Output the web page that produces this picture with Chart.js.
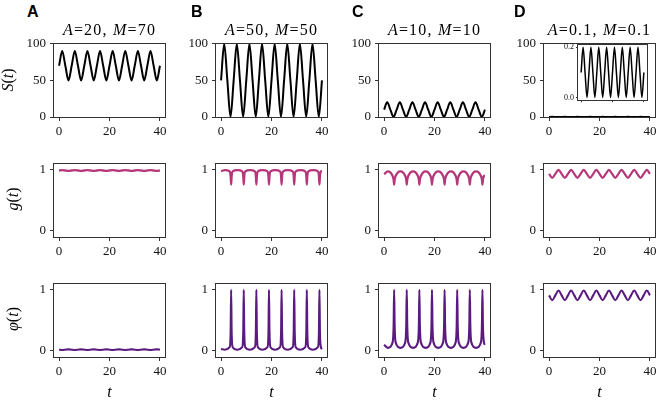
<!DOCTYPE html>
<html>
<head>
<meta charset="utf-8">
<script src="https://cdn.jsdelivr.net/npm/chart.js@4.4.1/dist/chart.umd.min.js"></script>
<style>
body{margin:0;background:#fff;width:658px;height:402px;overflow:hidden;position:relative;font-family:'Liberation Serif',serif}
canvas{position:absolute}
.lbl{position:absolute;white-space:nowrap;line-height:16px;color:#000}
.letter{font-family:'Liberation Sans',Arial,sans-serif;font-weight:bold;font-size:16px}
.ttl{font-size:16px;text-align:center;width:170px;letter-spacing:1.2px}
.ylab{font-size:16px;width:60px;height:16px;text-align:center;transform:rotate(-90deg)}
.xlab{font-size:16px;width:40px;text-align:center}
</style>
</head>
<body>
<script>
// time grids
const sT = [0,1.25,2.5,3.75,5,6.25,7.5,8.75,10,11.25,12.5,13.75,15,16.25,17.5,18.75,20,21.25,22.5,23.75,25,26.25,27.5,28.75,30,31.25,32.5,33.75,35,36.25,37.5,38.75,40];
const spikeT = [0,1.5,
  3.4,3.8,4,4.2,4.6,6.5,
  8.4,8.8,9,9.2,9.6,11.5,
  13.4,13.8,14,14.2,14.6,16.5,
  18.4,18.8,19,19.2,19.6,21.5,
  23.4,23.8,24,24.2,24.6,26.5,
  28.4,28.8,29,29.2,29.6,31.5,
  33.4,33.8,34,34.2,34.6,36.5,
  38.4,38.8,39,39.2,39.6,
  40];

// S(t)
const sA = [70,90,70,50,70,90,70,50,70,90,70,50,70,90,70,50,70,90,70,50,70,90,70,50,70,90,70,50,70,90,70,50,70];
const sB = [50,100,50,0,50,100,50,0,50,100,50,0,50,100,50,0,50,100,50,0,50,100,50,0,50,100,50,0,50,100,50,0,50];
const sC = [10,20,10,0,10,20,10,0,10,20,10,0,10,20,10,0,10,20,10,0,10,20,10,0,10,20,10,0,10,20,10,0,10];
const sD = [0.1,0.2,0.1,0,0.1,0.2,0.1,0,0.1,0.2,0.1,0,0.1,0.2,0.1,0,0.1,0.2,0.1,0,0.1,0.2,0.1,0,0.1,0.2,0.1,0,0.1,0.2,0.1,0,0.1];

// g(t)
const gA = [0.99,0.995,0.99,0.985,0.99,0.995,0.99,0.985,0.99,0.995,0.99,0.985,0.99,0.995,0.99,0.985,0.99,0.995,0.99,0.985,0.99,0.995,0.99,0.985,0.99,0.995,0.99,0.985,0.99,0.995,0.99,0.985,0.99];
const gB = [0.98,0.995,
  0.975,0.9,0.76,0.9,0.975,0.995,
  0.975,0.9,0.76,0.9,0.975,0.995,
  0.975,0.9,0.76,0.9,0.975,0.995,
  0.975,0.9,0.76,0.9,0.975,0.995,
  0.975,0.9,0.76,0.9,0.975,0.995,
  0.975,0.9,0.76,0.9,0.975,0.995,
  0.975,0.9,0.76,0.9,0.975,0.995,
  0.975,0.9,0.76,0.9,0.975,
  0.98];
const gC = [0.93,0.975,
  0.9,0.84,0.76,0.84,0.9,0.975,
  0.9,0.84,0.76,0.84,0.9,0.975,
  0.9,0.84,0.76,0.84,0.9,0.975,
  0.9,0.84,0.76,0.84,0.9,0.975,
  0.9,0.84,0.76,0.84,0.9,0.975,
  0.9,0.84,0.76,0.84,0.9,0.975,
  0.9,0.84,0.76,0.84,0.9,0.975,
  0.9,0.84,0.76,0.84,0.9,
  0.9];
const gD = [0.935,0.87,0.935,1,0.935,0.87,0.935,1,0.935,0.87,0.935,1,0.935,0.87,0.935,1,0.935,0.87,0.935,1,0.935,0.87,0.935,1,0.935,0.87,0.935,1,0.935,0.87,0.935,1,0.935];

// phi(t)
const phiA = [0.02,0.015,0.02,0.025,0.02,0.015,0.02,0.025,0.02,0.015,0.02,0.025,0.02,0.015,0.02,0.025,0.02,0.015,0.02,0.025,0.02,0.015,0.02,0.025,0.02,0.015,0.02,0.025,0.02,0.015,0.02,0.025,0.02];
const phiB = [0.03,0.02,
  0.06,0.3,1,0.3,0.06,0.02,
  0.06,0.3,1,0.3,0.06,0.02,
  0.06,0.3,1,0.3,0.06,0.02,
  0.06,0.3,1,0.3,0.06,0.02,
  0.06,0.3,1,0.3,0.06,0.02,
  0.06,0.3,1,0.3,0.06,0.02,
  0.06,0.3,1,0.3,0.06,0.02,
  0.06,0.3,1,0.3,0.06,
  0.03];
const phiC = [0.1,0.05,
  0.14,0.42,1,0.42,0.14,0.05,
  0.14,0.42,1,0.42,0.14,0.05,
  0.14,0.42,1,0.42,0.14,0.05,
  0.14,0.42,1,0.42,0.14,0.05,
  0.14,0.42,1,0.42,0.14,0.05,
  0.14,0.42,1,0.42,0.14,0.05,
  0.14,0.42,1,0.42,0.14,0.05,
  0.14,0.42,1,0.42,0.14,
  0.1];
const phiD = [0.91,0.83,0.91,0.99,0.91,0.83,0.91,0.99,0.91,0.83,0.91,0.99,0.91,0.83,0.91,0.99,0.91,0.83,0.91,0.99,0.91,0.83,0.91,0.99,0.91,0.83,0.91,0.99,0.91,0.83,0.91,0.99,0.91];

// ticks and labels
const xTicks = [0, 20, 40];
const sTicks = [0, 50, 100];
const unitTicks = [0, 1];
const insetTicks = [0, 0.2];
const panelLetters = ['A', 'B', 'C', 'D'];
const ampValues = ['20', '50', '10', '0.1'];
const meanValues = ['70', '50', '10', '0.1'];

const gColor = '#b5377a';
const phiColor = '#5b1a7f';

const colLeft = [54, 216, 379, 544];
const rowTop = [42, 162, 282];
const plotW = 111, plotH = 75;

const rows = [
  { t:[sT, sT, sT, sT], vals:[sA, sB, sC, sD], color:'#000', width:2, min:0, max:100, ticks:sTicks },
  { t:[sT, spikeT, spikeT, sT], vals:[gA, gB, gC, gD], color:gColor, width:2.3, min:-0.1, max:1.1, ticks:unitTicks },
  { t:[sT, spikeT, spikeT, sT], vals:[phiA, phiB, phiC, phiD], color:phiColor, width:2.1, min:-0.1, max:1.1, ticks:unitTicks }
];

const frame = {
  id:'frame',
  afterDatasetsDraw(chart){
    const a = chart.chartArea, ctx = chart.ctx;
    ctx.save();
    ctx.strokeStyle = '#333';
    ctx.lineWidth = 1;
    ctx.strokeRect(Math.round(a.left) - 0.5, Math.round(a.top) - 0.5, Math.round(a.right - a.left) + 1, Math.round(a.bottom - a.top) + 1);
    ctx.restore();
  }
};

function addCanvas(x, y, w, h){
  const c = document.createElement('canvas');
  c.width = w; c.height = h;
  c.style.left = x + 'px'; c.style.top = y + 'px';
  c.style.width = w + 'px'; c.style.height = h + 'px';
  document.body.appendChild(c);
  return c;
}

function addLabel(cls, html, x, y){
  const d = document.createElement('div');
  d.className = 'lbl ' + cls;
  d.innerHTML = html;
  d.style.left = x + 'px'; d.style.top = y + 'px';
  document.body.appendChild(d);
  return d;
}

function axis(min, max, ticks, opt){
  return {
    type:'linear', min, max,
    afterBuildTicks: s => { s.ticks = ticks.map(v => ({ value:v })); },
    afterFit: s => { if(opt.w !== undefined) s.width = opt.w; if(opt.h !== undefined) s.height = opt.h; },
    ticks:{ display:opt.labels, font:{ family:'Liberation Serif', size:opt.size }, color:'#111', padding:opt.pad, maxRotation:0, autoSkip:false,
      callback: v => opt.fmt ? opt.fmt(v) : String(v) },
    grid:{ display:true, drawOnChartArea:false, drawTicks:true, tickLength:opt.tick, color:'#333', lineWidth:1 },
    border:{ display:false }
  };
}

function lineChart(canvas, t, vals, color, width, xAxis, yAxis, pad){
  return new Chart(canvas, {
    type:'line',
    data:{ datasets:[{
      data: t.map((x, i) => ({ x, y: vals[i] })),
      borderColor: color, borderWidth: width, pointRadius: 0,
      cubicInterpolationMode: 'monotone', fill: false
    }]},
    options:{
      responsive:false, animation:false, devicePixelRatio:1, events:[],
      layout:{ padding: pad },
      plugins:{ legend:{ display:false }, tooltip:{ enabled:false } },
      scales:{ x:xAxis, y:yAxis }
    },
    plugins:[frame]
  });
}

// main grid of panels
const padL = 44, padT = 10, padR = 14, padB = 28;
rows.forEach((row, r) => {
  for(let c = 0; c < 4; c++){
    const cv = addCanvas(colLeft[c] - padL, rowTop[r] - padT, plotW + padL + padR, plotH + padT + padB);
    lineChart(cv, row.t[c], row.vals[c], row.color, row.width,
      axis(-2, 42, xTicks, { labels:true, size:13, pad:3, tick:4, h:padB }),
      axis(row.min, row.max, row.ticks, { labels:true, size:13, pad:4, tick:4, w:padL }),
      { left:0, top:padT, right:padR, bottom:0 });
  }
});

// inset in panel D
const inL = 578, inT = 44, inW = 69, inH = 57;
const inCv = addCanvas(inL - 22, inT - 6, inW + 22 + 6, inH + 6 + 6);
lineChart(inCv, sT, sD, '#000', 1.5,
  axis(-2, 42, xTicks, { labels:false, size:8, pad:0, tick:2, h:6 }),
  axis(-0.01, 0.21, insetTicks, { labels:true, size:8, pad:2, tick:2, w:22, fmt: v => v.toFixed(1) }),
  { left:0, top:6, right:6, bottom:0 });

// text
const letterX = [27, 191, 352, 514];
for(let c = 0; c < 4; c++){
  addLabel('letter', panelLetters[c], letterX[c], 4);
  addLabel('ttl', '<i>A</i>=' + ampValues[c] + ', <i>M</i>=' + meanValues[c], colLeft[c] + plotW / 2 - 85, 22);
  addLabel('xlab', '<i>t</i>', colLeft[c] + plotW / 2 - 20, 384);
}
addLabel('ylab', '<i>S</i>(<i>t</i>)', 8 - 30, 72);
addLabel('ylab', '<i>g</i>(<i>t</i>)', 13 - 30, 191);
addLabel('ylab', '<i>\u03c6</i>(<i>t</i>)', 13 - 30, 311);
</script>
</body>
</html>
